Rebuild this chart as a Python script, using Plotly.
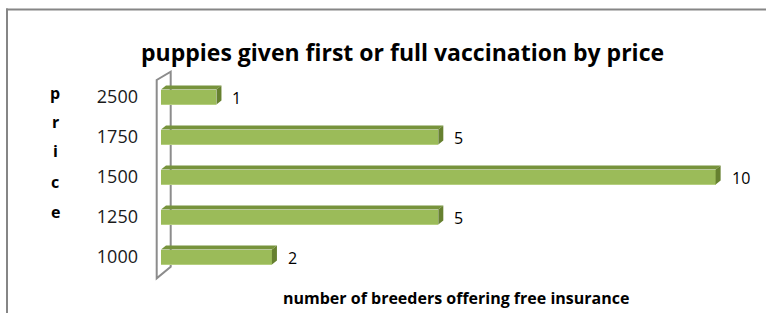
import plotly.graph_objects as go

# ---- data ----
categories = ["1000", "1250", "1500", "1750", "2500"]
values = [2, 5, 10, 5, 1]
title_text = "puppies given first or full vaccination by price"
x_title = "number of breeders offering free insurance"
y_title = "price"

# ---- layout constants (pixels) ----
WIDTH, HEIGHT = 766, 313
ML, MR, MT, MB = 161, 6, 77, 36
XMAX = 10.8
PW = WIDTH - ML - MR
PH = HEIGHT - MT - MB


def px(x):
    return (x - ML) / PW


def py(y):
    return 1 - (y - MT) / PH


ypos = list(range(len(categories)))
BAR_W = 0.375
DXU = 5 / (PW / XMAX)   # depth in x data units
DYU = 4 / (PH / 5.0)    # depth in y data units

FRONT = "#9BBB59"
TOP = "#77933C"
SIDE = "#66802F"

fig = go.Figure()
fig.add_trace(go.Bar(
    x=values, y=ypos, orientation="h", width=BAR_W,
    marker=dict(color=FRONT, line=dict(width=0)),
    hoverinfo="x+y",
))

shapes = []
for yi, v in zip(ypos, values):
    yt = yi + BAR_W / 2
    yb = yi - BAR_W / 2
    shapes.append(dict(
        type="path", xref="x", yref="y", layer="above",
        path=f"M 0,{yt} L {DXU},{yt + DYU} L {v + DXU},{yt + DYU} L {v},{yt} Z",
        fillcolor=TOP, line=dict(width=0)))
    shapes.append(dict(
        type="path", xref="x", yref="y", layer="above",
        path=f"M {v},{yt} L {v + DXU},{yt + DYU} L {v + DXU},{yb + DYU} L {v},{yb} Z",
        fillcolor=SIDE, line=dict(width=0)))
    shapes.append(dict(
        type="line", xref="x", yref="y", layer="above",
        x0=0, x1=v, y0=yb, y1=yb, line=dict(color="#B5CF7F", width=1)))

# wall (3D back wall on the left)
wall = (f"M {px(156.7)},{py(80)} L {px(156.7)},{py(278.3)} "
        f"L {px(170.7)},{py(266.7)} L {px(170.7)},{py(71.7)} Z")
shapes.append(dict(type="path", xref="paper", yref="paper", layer="below",
                   path=wall, line=dict(color="#8C8C8C", width=2),
                   fillcolor="rgba(0,0,0,0)"))

# outer chart frame (only top and left edges are visible)
shapes.append(dict(type="line", xref="paper", yref="paper", layer="below",
                   x0=px(6), x1=px(766), y0=py(9.5), y1=py(9.5),
                   line=dict(color="#868686", width=2)))
shapes.append(dict(type="line", xref="paper", yref="paper", layer="below",
                   x0=px(7), x1=px(7), y0=py(8.5), y1=py(313),
                   line=dict(color="#868686", width=2)))

annotations = []
for yi, v in zip(ypos, values):
    annotations.append(dict(x=v, y=yi, xref="x", yref="y", text=str(v),
                            showarrow=False, xanchor="left", yanchor="middle",
                            xshift=14, yshift=-1,
                            font=dict(family="Open Sans", size=16, color="#000000")))

annotations.append(dict(x=px(402), y=py(52), xref="paper", yref="paper",
                        text=f"<b>{title_text}</b>", showarrow=False,
                        xanchor="center", yanchor="middle",
                        font=dict(family="Open Sans", size=23, color="#000000")))
annotations.append(dict(x=px(456), y=py(298), xref="paper", yref="paper",
                        text=f"<b>{x_title}</b>", showarrow=False,
                        xanchor="center", yanchor="middle",
                        font=dict(family="Open Sans", size=16, color="#000000")))
letter_y = [93, 122, 151, 182, 212]
for ch, ly in zip(y_title, letter_y):
    annotations.append(dict(x=px(55), y=py(ly), xref="paper", yref="paper",
                            text=f"<b>{ch}</b>", showarrow=False,
                            xanchor="center", yanchor="middle",
                            font=dict(family="Open Sans", size=16, color="#000000")))

fig.update_layout(
    width=WIDTH, height=HEIGHT,
    margin=dict(l=ML, r=MR, t=MT, b=MB, pad=0),
    paper_bgcolor="white", plot_bgcolor="white",
    showlegend=False,
    xaxis=dict(range=[0, XMAX], visible=False, fixedrange=True),
    yaxis=dict(range=[-0.5, 4.5], tickvals=ypos, ticktext=categories,
               showgrid=False, zeroline=False, showline=False, ticks="",
               ticklabelstandoff=22,
               tickfont=dict(family="Open Sans", size=18, color="#1a1a1a"),
               fixedrange=True),
    shapes=shapes, annotations=annotations,
    bargap=0,
)
fig.data[0].cliponaxis = False

fig.write_html("out.html", config={"displayModeBar": False},
               post_script="document.body.style.margin='0';")
